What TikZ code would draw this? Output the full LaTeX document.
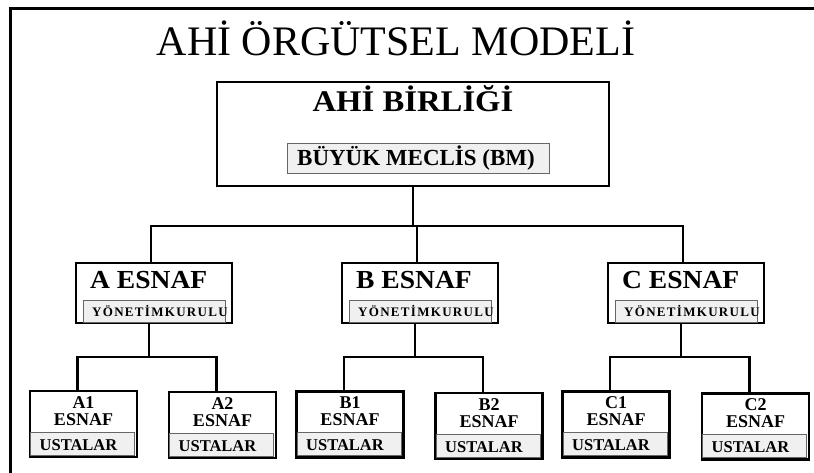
\documentclass[tikz,border=0pt]{standalone}
\usepackage{fontspec}
\setmainfont{Liberation Serif}
\begin{document}
\begin{tikzpicture}[x=1pt,y=-1pt,
  frame/.style={line width=3pt, black},
  outerbox/.style={draw=black, line width=2.4pt, fill=white, inner sep=0pt},
  subbox/.style={draw=gray!80!black, line width=0.9pt, fill=gray!12, inner sep=0pt},
  conn/.style={line width=2.4pt, black},
  txt/.style={inner sep=0pt, font=\bfseries}
]
\newcommand\esnafbox[3]{%
  \node[outerbox, minimum width=156pt, minimum height=60pt] (#1) at (#2,293) {};
  \node[subbox, minimum width=142pt, minimum height=22pt] (#1y) at (#2,311) {};
  \node[txt, anchor=base west] (#1t) at ({#2-64},288) {\fontsize{26}{26}\selectfont\scalebox{1.06}[1]{#3 ESNAF}};
  \node[txt, anchor=base west] (#1yt) at ({#2-62},316) {\fontsize{13}{13}\selectfont\addfontfeature{LetterSpace=10}YÖNETİMKURULU};
}
\newcommand\ustabox[4]{%
  \node[outerbox, minimum width=107pt, minimum height=66pt] (#1) at (#2,#3) {};
  \node[subbox, minimum width=104pt, minimum height=23pt] (#1u) at ({#2-1},{#3+19.5}) {};
  \node[txt, anchor=base west] (#1ut) at ({#2-44},{#3+26}) {\fontsize{16.5}{16.5}\selectfont USTALAR};
  \node[txt, anchor=base] (#1a) at (#2,{#3-16}) {\fontsize{18}{18}\selectfont #4};
  \node[txt, anchor=base] (#1b) at (#2,{#3+1}) {\fontsize{18}{18}\selectfont ESNAF};
}
\useasboundingbox (0,0) rectangle (814,473);
\draw[frame] (10,480) -- (10,9) -- (820,9);
\node[inner sep=0pt, anchor=base] (title) at (396,56) {\fontsize{42}{42}\selectfont AHİ ÖRGÜTSEL MODELİ};

\node[outerbox, minimum width=392pt, minimum height=104pt] (ahi) at (413,134) {};
\node[txt, anchor=base] (ahit) at (413,112) {\fontsize{30}{30}\selectfont\scalebox{1.09}[1]{AHİ BİRLİĞİ}};
\node[subbox, minimum width=262pt, minimum height=30pt] (bm) at (418,158) {};
\node[txt, anchor=base] (bmt) at (416,166) {\fontsize{23}{23}\selectfont BÜYÜK MECLİS (BM)};

\esnafbox{aes}{154}{A}
\esnafbox{bes}{420}{B}
\esnafbox{ces}{686}{C}

\ustabox{a1}{83.5}{424}{A1}
\ustabox{a2}{222.5}{425}{A2}
\ustabox{b1}{350}{424.5}{B1}
\ustabox{b2}{489}{426}{B2}
\ustabox{c1}{616}{424.5}{C1}
\ustabox{c2}{755.5}{426.5}{C2}

\draw[conn] (ahi.south) -- ++(0,39) coordinate (hub);
\draw[conn] ([xshift=-3pt]aes.north) |- (hub) -| ([xshift=-3pt]ces.north);
\draw[conn] ([xshift=-3pt]bes.north) |- (hub);

\draw[conn] ([xshift=-5pt]aes.south) -- ++(0,33) coordinate (ja);
\draw[conn] ([xshift=-6pt]a1.north) |- (ja) -| ([xshift=-6pt]a2.north);
\draw[conn] ([xshift=-5pt]bes.south) -- ++(0,33) coordinate (jb);
\draw[conn] ([xshift=-6pt]b1.north) |- (jb) -| ([xshift=-6pt]b2.north);
\draw[conn] ([xshift=-5pt]ces.south) -- ++(0,33) coordinate (jc);
\draw[conn] ([xshift=-6pt]c1.north) |- (jc) -| ([xshift=-6pt]c2.north);
\end{tikzpicture}
\end{document}
